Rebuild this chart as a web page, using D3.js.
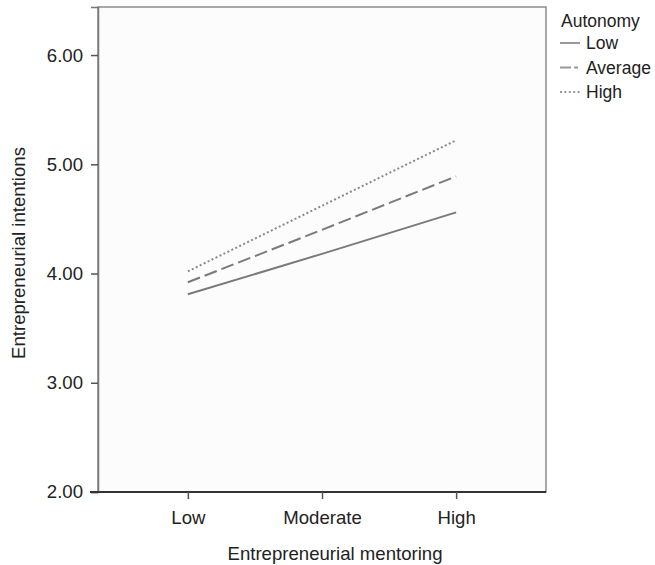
<!DOCTYPE html>
<html>
<head>
<meta charset="utf-8">
<script src="https://cdn.jsdelivr.net/npm/d3@7"></script>
<style>
  body { margin: 0; background: #fff; }
  text { font-family: "Liberation Sans", Arial, sans-serif; fill: #222; }
</style>
</head>
<body>
<div id="chart"></div>
<script>
// mentoring levels on the x axis
const mentoring = ["Low", "Moderate", "High"];
// autonomy groups (legend)
const autonomy = ["Low", "Average", "High"];
// entrepreneurial intentions per autonomy group
const lowValues = [3.81, 4.18, 4.56];
const averageValues = [3.92, 4.40, 4.89];
const highValues = [4.02, 4.62, 5.22];
const yTicks = [2, 3, 4, 5, 6];

const series = [
  { name: autonomy[0], values: lowValues, dash: null, color: "#7a7a7a", w: 2 },
  { name: autonomy[1], values: averageValues, dash: "13,5", color: "#7a7a7a", w: 2 },
  { name: autonomy[2], values: highValues, dash: "2,2.4", color: "#8a8a8a", w: 2 }
];

const W = 655, H = 565;
const margin = { top: 7, right: 109, bottom: 73, left: 98 };
const width = W - margin.left - margin.right,
      height = H - margin.top - margin.bottom;
const fs = 18.6;

const svg = d3.select("#chart").append("svg")
  .attr("width", W).attr("height", H);

const g = svg.append("g")
  .attr("transform", "translate(" + margin.left + "," + margin.top + ")");

const x = d3.scalePoint().domain(mentoring).range([0, width]).padding(0.67);
const y = d3.scaleLinear().domain([2, 6.44]).range([height, 0]);

// plot area
g.append("rect")
  .attr("width", width).attr("height", height)
  .attr("fill", "#fcfcfc")
  .attr("stroke", "#8c8c8c").attr("stroke-width", 1.5);

// y axis
const yAxis = g.append("g")
  .call(d3.axisLeft(y).tickValues(yTicks).tickFormat(d3.format(".2f")).tickSize(7).tickPadding(8));
yAxis.select(".domain").attr("stroke", "#777").attr("stroke-width", 1.5);
yAxis.selectAll(".tick line").attr("stroke", "#555").attr("stroke-width", 1.5);
yAxis.selectAll("text").attr("font-size", fs).attr("fill", "#222")
  .style("font-family", '"Liberation Sans", Arial, sans-serif');

// x axis
const xAxis = g.append("g")
  .attr("transform", "translate(0," + height + ")")
  .call(d3.axisBottom(x).tickSize(7).tickPadding(12));
xAxis.select(".domain").attr("d", "M-8,0H" + width)
  .attr("stroke", "#333").attr("stroke-width", 2);
xAxis.selectAll(".tick line").attr("stroke", "#555").attr("stroke-width", 1.5);
xAxis.selectAll("text").attr("font-size", fs).attr("fill", "#222")
  .style("font-family", '"Liberation Sans", Arial, sans-serif');

// axis titles
svg.append("text")
  .attr("x", 335).attr("y", 560)
  .attr("text-anchor", "middle").attr("font-size", fs)
  .text("Entrepreneurial mentoring");

svg.append("text")
  .attr("transform", "translate(25,253) rotate(-90)")
  .attr("text-anchor", "middle").attr("font-size", fs)
  .text("Entrepreneurial intentions");

// lines
const line = d3.line()
  .x((d, i) => x(mentoring[i]))
  .y(d => y(d));

g.selectAll(".series")
  .data(series)
  .enter().append("path")
    .attr("class", "series")
    .attr("d", d => line(d.values))
    .attr("fill", "none")
    .attr("stroke", d => d.color)
    .attr("stroke-width", d => d.w)
    .attr("stroke-dasharray", d => d.dash);

// legend
const legend = svg.append("g").attr("transform", "translate(559,0)");
legend.append("text").attr("x", 2).attr("y", 27).attr("font-size", 17.5).text("Autonomy");

const rows = legend.selectAll(".row")
  .data(series)
  .enter().append("g")
    .attr("class", "row")
    .attr("transform", (d, i) => "translate(0," + (43 + i * 24.5) + ")");

rows.append("line")
  .attr("x1", 1).attr("x2", 21)
  .attr("stroke", "#999")
  .attr("stroke-width", d => d.w)
  .attr("stroke-dasharray", d => d.dash ? (d.dash === "13,5" ? "11,3,4,3" : d.dash) : null);

rows.append("text")
  .attr("x", 27).attr("y", 6)
  .attr("font-size", 17.5)
  .text(d => d.name);
</script>
</body>
</html>
